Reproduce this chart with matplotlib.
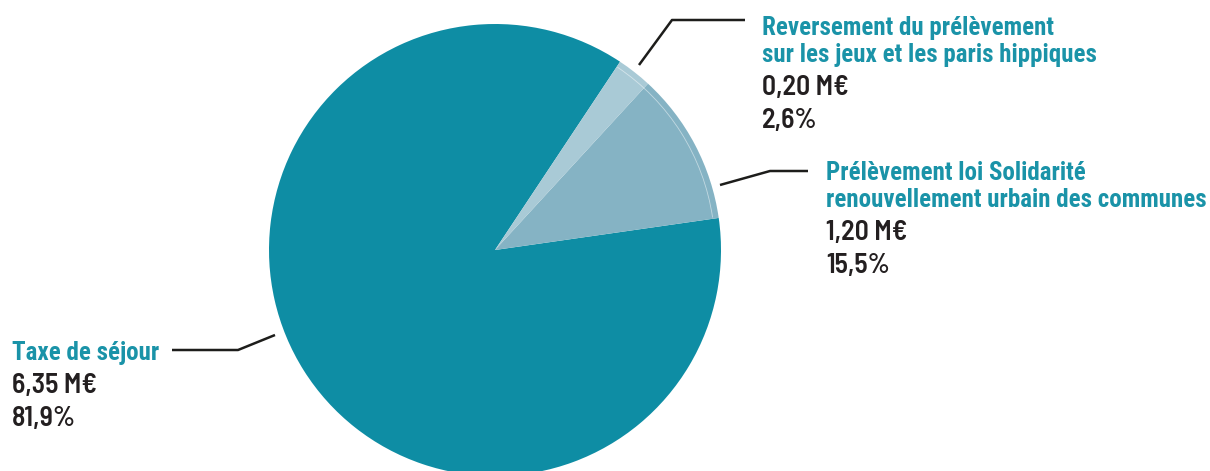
import matplotlib
matplotlib.use("Agg")
from matplotlib import pyplot as plt
from matplotlib.patches import Arc

# slice shares as drawn in the picture, order: Taxe, Prélèvement, Reversement
shares = [86.6, 10.9, 2.5]
titles = ["Taxe de séjour",
          "Prélèvement loi Solidarité\nrenouvellement urbain des communes",
          "Reversement du prélèvement\nsur les jeux et les paris hippiques"]
amounts = ["6,35 M€", "1,20 M€", "0,20 M€"]
percents = ["81,9%", "15,5%", "2,6%"]

colors = ["#0E8DA4", "#85B3C4", "#A9CAD6"]
teal_txt = "#1A93A8"
dark_txt = "#231F20"

title_font = ["Roboto Condensed", "Archivo Narrow", "DejaVu Sans"]
value_font = ["Barlow Semi Condensed", "Barlow", "DejaVu Sans"]

W, H = 1210, 471
fig = plt.figure(figsize=(W / 100, H / 100), dpi=100)
ax = fig.add_axes([0, 0, 1, 1])

cx, cy, R = 495, H - 250, 226
ax.pie(shares, colors=colors, startangle=56.4, counterclock=True,
       center=(cx, cy), radius=R, wedgeprops=dict(linewidth=0), frame=True)
ax.set_xlim(0, W)
ax.set_ylim(0, H)
ax.set_aspect("equal")
ax.axis("off")

# thin light arc inside the two small slices
ax.add_patch(Arc((cx, cy), 2 * 220, 2 * 220, theta1=8.5, theta2=56.2,
                 color="white", lw=0.6, alpha=0.5))


def y(py):
    return H - py


def block(x, ybase, title, amount, pct):
    yy = ybase
    for ln in title.split("\n"):
        ax.text(x, y(yy), ln, color=teal_txt, fontsize=18, fontweight="bold",
                family=title_font, va="baseline", ha="left")
        yy += 27
    yy += 6
    ax.text(x, y(yy), amount, color=dark_txt, fontsize=20, fontweight="semibold",
            family=value_font, va="baseline", ha="left")
    yy += 33
    ax.text(x, y(yy), pct, color=dark_txt, fontsize=20, fontweight="semibold",
            family=value_font, va="baseline", ha="left")


block(12, 360, titles[0], amounts[0], percents[0])
block(826, 180, titles[1], amounts[1], percents[1])
block(762, 35, titles[2], amounts[2], percents[2])

# leader lines
lk = dict(color="#1d1d1b", lw=1.8, solid_capstyle="butt")
ax.plot([172, 238, 275], [y(350), y(350), y(335)], **lk)
ax.plot([720, 770, 808], [y(185), y(171), y(171)], **lk)
ax.plot([639, 672, 745], [y(65), y(20), y(20)], **lk)

fig.savefig("out.png", dpi=100)
